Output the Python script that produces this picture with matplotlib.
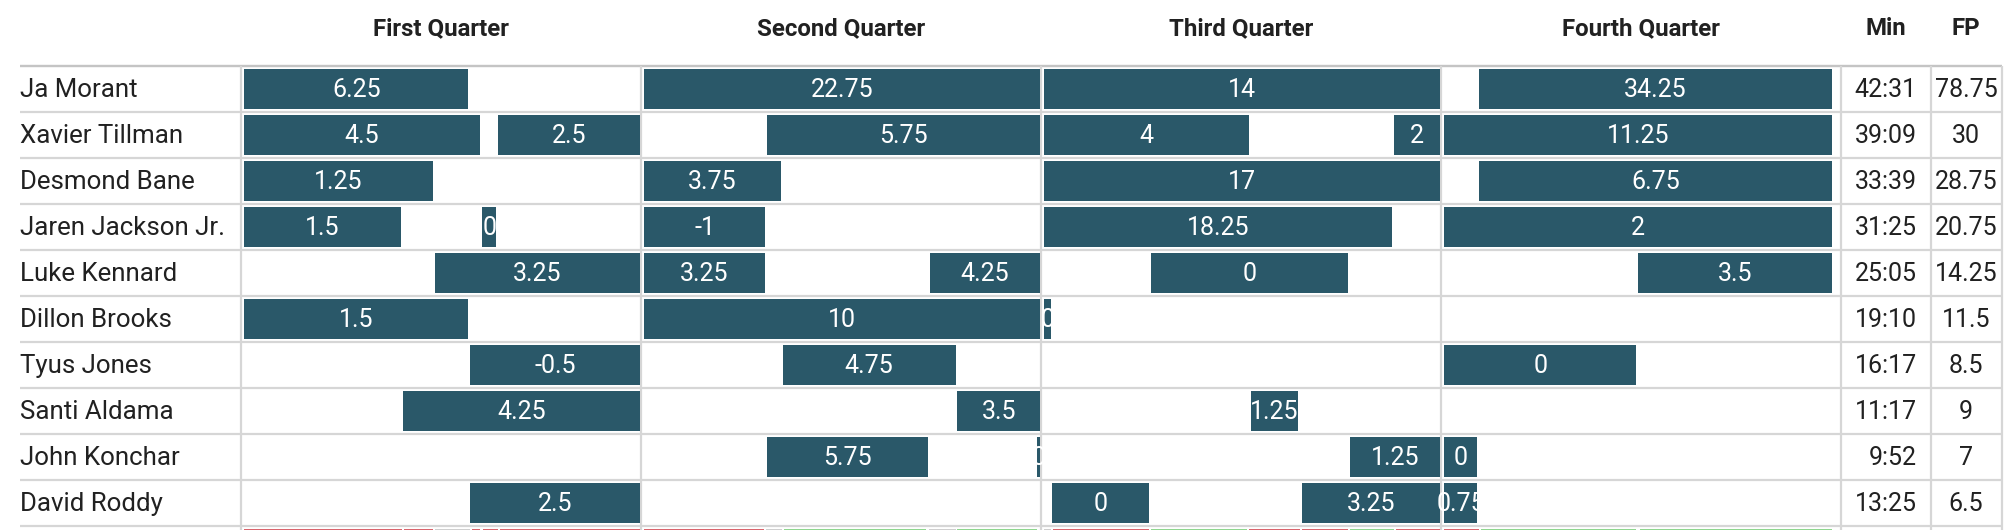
import matplotlib
matplotlib.use("Agg")
import matplotlib.pyplot as plt

# ---------------- data ----------------
players = ["Ja Morant", "Xavier Tillman", "Desmond Bane", "Jaren Jackson Jr.", "Luke Kennard",
           "Dillon Brooks", "Tyus Jones", "Santi Aldama", "John Konchar", "David Roddy"]
minutes_played = ["42:31", "39:09", "33:39", "31:25", "25:05", "19:10", "16:17", "11:17", "9:52", "13:25"]
fantasy_points = ["78.75", "30", "28.75", "20.75", "14.25", "11.5", "8.5", "9", "7", "6.5"]
quarters = ["First Quarter", "Second Quarter", "Third Quarter", "Fourth Quarter"]

# stints: row (player), quarter, start / end (minutes elapsed in quarter), fantasy points
stint_row = [0, 0, 0, 0,
             1, 1, 1, 1, 1, 1,
             2, 2, 2, 2,
             3, 3, 3, 3, 3,
             4, 4, 4, 4, 4,
             5, 5, 5,
             6, 6, 6,
             7, 7, 7,
             8, 8, 8, 8,
             9, 9, 9, 9]
stint_q = [0, 1, 2, 3,
           0, 0, 1, 2, 2, 3,
           0, 1, 2, 3,
           0, 0, 1, 2, 3,
           0, 1, 1, 2, 3,
           0, 1, 2,
           0, 1, 3,
           0, 1, 2,
           1, 1, 2, 3,
           0, 2, 2, 3]
stint_start = [0, 0, 0, 1.08,
               0, 7.7, 3.73, 0, 10.6, 0,
               0, 0, 0, 1.08,
               0, 7.22, 0, 0, 0,
               5.78, 0, 8.67, 3.24, 6.0,
               0, 0, 0,
               6.85, 4.2, 0,
               4.82, 9.5, 6.27,
               3.73, 11.9, 9.27, 0,
               6.85, 0.24, 7.82, 0]
stint_end = [6.8, 12, 12, 12,
             7.15, 12, 12, 6.2, 12, 12,
             5.73, 4.15, 12, 12,
             4.75, 7.64, 3.67, 10.55, 12,
             12, 3.67, 12, 9.2, 12,
             6.8, 12, 0.2,
             12, 9.45, 5.95,
             12, 12, 7.7,
             8.6, 12, 12, 1.02,
             12, 3.18, 12, 1.02]
stint_fp = ["6.25", "22.75", "14", "34.25",
            "4.5", "2.5", "5.75", "4", "2", "11.25",
            "1.25", "3.75", "17", "6.75",
            "1.5", "0", "-1", "18.25", "2",
            "3.25", "3.25", "4.25", "0", "3.5",
            "1.5", "10", "0",
            "-0.5", "4.75", "0",
            "4.25", "3.5", "1.25",
            "5.75", "0", "1.25", "0",
            "2.5", "0", "3.25", "0.75"]

# lineup +/- strip (row below the players, mostly cut off)
lineup_q = [0, 0, 0, 0, 0, 0, 1, 1, 1, 1, 1, 2, 2, 2, 2, 2, 2, 2, 3, 3, 3]
lineup_start = [0, 4.85, 5.79, 6.91, 7.24, 7.76, 0, 3.70, 4.24, 8.64, 9.5,
                0, 0.27, 3.24, 6.21, 7.82, 9.27, 10.67, 0, 1.14, 6.05]
lineup_end = [4.79, 5.73, 6.85, 7.15, 7.70, 12, 3.64, 4.18, 8.55, 9.45, 11.9,
              0.2, 3.18, 6.15, 7.76, 9.21, 10.6, 12, 1.08, 5.95, 12]
lineup_sign = [-1, -1, 0, -1, -1, -1, -1, 0, 1, 0, 1,
               0, -1, 1, -1, -1, 1, -1, -1, 1, 1]

# ---------------- layout / style ----------------
W, H = 2006, 530
TOP = 66
ROW_H = 46
NAME_X = 20
COL_EDGES = [241, 641, 1041, 1441, 1841, 1931, 2002]
Q_LEFT = [244, 644, 1044, 1444]
Q_WIDTH = [396, 396, 396, 388]
MIN_RIGHT = 1917
FP_CENTER = 1966
BAR_COLOR = "#2a5869"
SIGN_COLORS = {-1: "#d9646c", 0: "#cfcfcf", 1: "#8fd68f"}
LINE_COLOR = "#d6d6d6"
HEAD_LINE_COLOR = "#c4c4c4"
TEXT_COLOR = "#212121"
FONT = ["Roboto", "DejaVu Sans"]
FS_NAME = 18.6
FS_NUM = 18.0
FS_HEAD = 17.3
BAR_H = 40 / ROW_H
BASE_OFF = 8.0 / ROW_H
px = 72 / 100.0

plt.rcParams["font.family"] = FONT

fig = plt.figure(figsize=(W / 100, H / 100), dpi=100)
fig.patch.set_facecolor("white")

n_rows_visible = (H - TOP) / ROW_H

# background axes in pixel coordinates for grid lines and column text
bg = fig.add_axes([0, 0, 1, 1])
bg.set_xlim(0, W)
bg.set_ylim(H, 0)
bg.axis("off")

# horizontal lines
bg.plot([NAME_X, COL_EDGES[-1]], [TOP, TOP], color=HEAD_LINE_COLOR, lw=2.4 * px, solid_capstyle="butt")
for k in range(1, len(players) + 1):
    y = TOP + k * ROW_H
    bg.plot([NAME_X, COL_EDGES[-1]], [y, y], color=LINE_COLOR, lw=2.2 * px, solid_capstyle="butt")
# vertical lines
for x in COL_EDGES:
    bg.plot([x, x], [TOP, H], color=LINE_COLOR, lw=2.2 * px, solid_capstyle="butt")

# headers
for i, q in enumerate(quarters):
    cx = (COL_EDGES[i] + COL_EDGES[i + 1]) / 2
    bg.text(cx, 35, q, ha="center", va="baseline", fontsize=FS_HEAD, fontweight="bold", color=TEXT_COLOR)
bg.text((COL_EDGES[4] + COL_EDGES[5]) / 2, 35, "Min", ha="center", va="baseline",
        fontsize=FS_HEAD, fontweight="bold", color=TEXT_COLOR)
bg.text(FP_CENTER, 35, "FP", ha="center", va="baseline",
        fontsize=FS_HEAD, fontweight="bold", color=TEXT_COLOR)

# names, minutes, fantasy points
for k, name in enumerate(players):
    yb = TOP + (k + 0.5 + BASE_OFF) * ROW_H
    bg.text(NAME_X, yb, name, ha="left", va="baseline", fontsize=FS_NAME, color=TEXT_COLOR)
    bg.text(MIN_RIGHT, yb, minutes_played[k], ha="right", va="baseline", fontsize=FS_NUM, color=TEXT_COLOR)
    bg.text(FP_CENTER, yb, fantasy_points[k], ha="center", va="baseline", fontsize=FS_NUM, color=TEXT_COLOR)

# quarter axes
qaxes = []
for i in range(4):
    ax = fig.add_axes([Q_LEFT[i] / W, 0, Q_WIDTH[i] / W, (H - TOP) / H])
    ax.set_xlim(0, 12)
    ax.set_ylim(n_rows_visible, 0)
    ax.axis("off")
    ax.patch.set_alpha(0)
    qaxes.append(ax)

for r, q, s, e, lab in zip(stint_row, stint_q, stint_start, stint_end, stint_fp):
    ax = qaxes[q]
    bars = ax.barh(r + 0.5, e - s, left=s, height=BAR_H, color=BAR_COLOR, linewidth=0)
    t = ax.text((s + e) / 2, r + 0.5 + BASE_OFF, lab, ha="center", va="baseline",
                fontsize=FS_NUM, color="white")
    t.set_clip_path(bars[0])

strip_row = len(players)
for q, s, e, sg in zip(lineup_q, lineup_start, lineup_end, lineup_sign):
    qaxes[q].barh(strip_row + 0.5, e - s, left=s, height=BAR_H, color=SIGN_COLORS[sg], linewidth=0)

fig.savefig("out.png", dpi=100, facecolor="white")
